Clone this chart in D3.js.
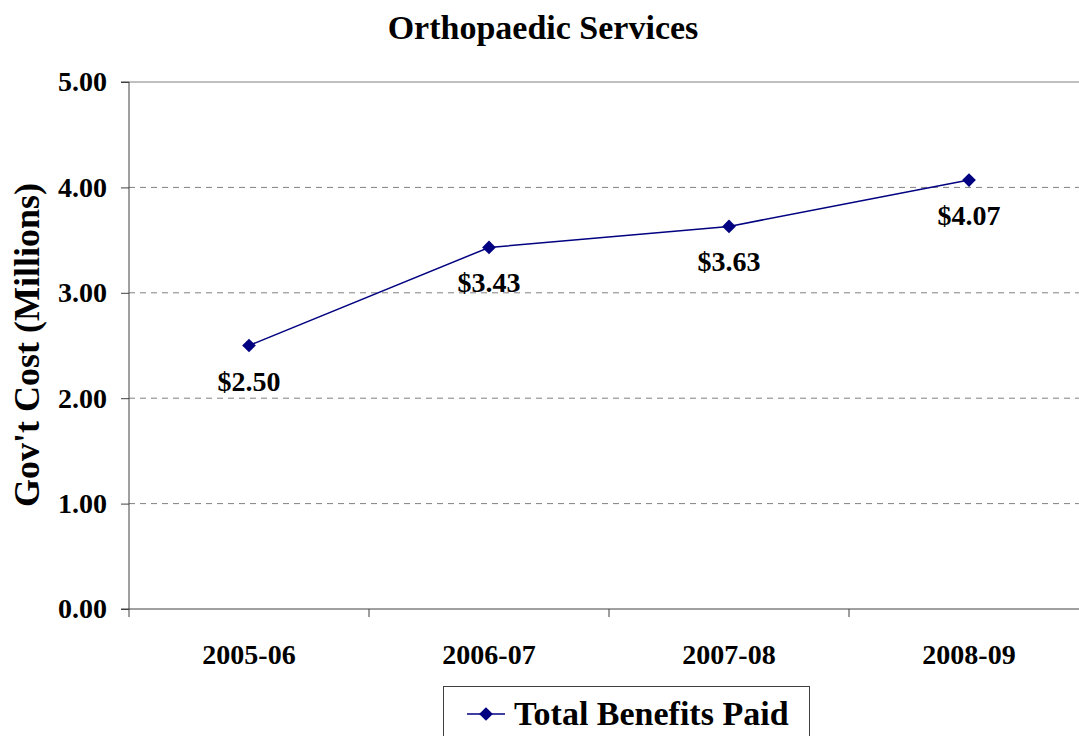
<!DOCTYPE html>
<html>
<head>
<meta charset="utf-8">
<script src="https://cdn.jsdelivr.net/npm/d3@7"></script>
<style>
  body { margin: 0; background: #fff; }
  svg { font-family: "Liberation Serif", "Times New Roman", serif; font-weight: bold; }
</style>
</head>
<body>
<svg id="chart" width="1079" height="736"></svg>
<script>
// data
const years = ["2005-06", "2006-07", "2007-08", "2008-09"];
const benefits = [2.50, 3.43, 3.63, 4.07];
const yTicks = [0, 1, 2, 3, 4, 5];

(function(){
"use strict";

const svg = d3.select("#chart");
const plotLeft = 129, plotRight = 1089, plotTop = 82, plotBottom = 609;

let x = d3.scaleBand().domain(years).range([plotLeft, plotRight]);
let y = d3.scaleLinear().domain([0, 5]).range([plotBottom, plotTop]);

// title
svg.append("text")
  .attr("x", 543).attr("y", 39)
  .attr("text-anchor", "middle")
  .style("font-size", "34px")
  .text("Orthopaedic Services");

// gridlines
svg.append("g").selectAll("line")
  .data(yTicks.filter(d => d > 0))
  .enter().append("line")
    .attr("x1", plotLeft).attr("x2", 1079)
    .attr("y1", d => y(d)).attr("y2", d => y(d))
    .attr("stroke", "#808080")
    .attr("stroke-width", 1)
    .attr("stroke-dasharray", d => d === 5 ? null : "6,5");

// y axis
let yAxis = d3.axisLeft(y).tickValues(yTicks).tickFormat(d3.format(".2f")).tickSize(8).tickPadding(14);
let gy = svg.append("g").attr("transform", `translate(${plotLeft},0)`).call(yAxis);
gy.select(".domain").attr("stroke", "#404040").attr("d", `M-8,${plotTop}H0V${plotBottom}H-8`);
gy.selectAll(".tick line").attr("stroke", "#404040");
gy.selectAll("text").attr("fill", "#000").style("font-size", "28px")
  .style("font-family", "Liberation Serif, serif").style("font-weight", "bold");

// x axis line and ticks at category boundaries
svg.append("line")
  .attr("x1", plotLeft).attr("x2", 1079)
  .attr("y1", plotBottom).attr("y2", plotBottom)
  .attr("stroke", "#404040");
svg.append("g").selectAll("line")
  .data(years)
  .enter().append("line")
    .attr("x1", d => x(d)).attr("x2", d => x(d))
    .attr("y1", plotBottom).attr("y2", plotBottom + 8)
    .attr("stroke", "#404040");
svg.append("g").selectAll("text")
  .data(years)
  .enter().append("text")
    .attr("x", d => x(d) + x.bandwidth() / 2)
    .attr("y", 664)
    .attr("text-anchor", "middle")
    .style("font-size", "28px")
    .text(d => d);

// y label
svg.append("text")
  .attr("transform", "translate(39,345) rotate(-90)")
  .attr("text-anchor", "middle")
  .style("font-size", "36px")
  .text("Gov't Cost (Millions)");

// line
let pts = years.map((d, i) => ({year: d, v: benefits[i]}));
let cx = d => x(d.year) + x.bandwidth() / 2;
svg.append("path")
  .datum(pts)
  .attr("fill", "none")
  .attr("stroke", "#000080")
  .attr("stroke-width", 1.5)
  .attr("d", d3.line().x(cx).y(d => y(d.v)));

let diamond = d3.symbol().type(d3.symbolDiamond2).size(120);
svg.append("g").selectAll("path")
  .data(pts)
  .enter().append("path")
    .attr("transform", d => `translate(${cx(d)},${y(d.v)})`)
    .attr("d", diamond)
    .attr("fill", "#000080");

svg.append("g").selectAll("text")
  .data(pts)
  .enter().append("text")
    .attr("x", cx)
    .attr("y", d => y(d.v) + 45)
    .attr("text-anchor", "middle")
    .style("font-size", "28px")
    .text(d => "$" + d.v.toFixed(2));

// legend
let lg = svg.append("g");
lg.append("rect")
  .attr("x", 443.5).attr("y", 686.5)
  .attr("width", 366).attr("height", 60)
  .attr("fill", "#fff").attr("stroke", "#404040");
lg.append("line")
  .attr("x1", 467).attr("x2", 505).attr("y1", 714).attr("y2", 714)
  .attr("stroke", "#000080").attr("stroke-width", 1.5);
lg.append("path")
  .attr("transform", "translate(486,714)")
  .attr("d", diamond)
  .attr("fill", "#000080");
lg.append("text")
  .attr("x", 514).attr("y", 725)
  .style("font-size", "34px")
  .text("Total Benefits Paid");

})();
</script>
</body>
</html>
